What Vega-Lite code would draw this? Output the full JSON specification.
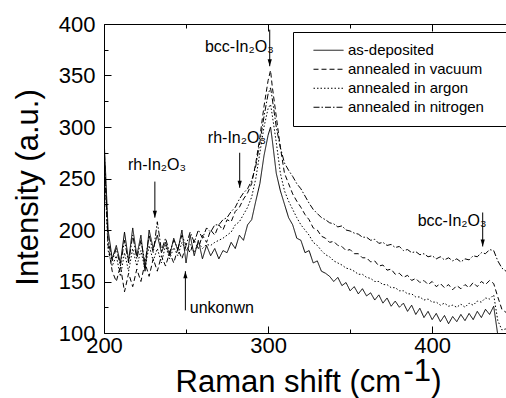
{
  "$schema": "https://vega.github.io/schema/vega-lite/v6.json",
  "width": 402,
  "height": 309,
  "autosize": {"type": "none"},
  "padding": {"left": 104, "top": 24, "right": 0, "bottom": 65},
  "background": "white",
  "config": {"view": {"stroke": null}, "font": "Liberation Sans"},
  "resolve": {"axis": {"x": "independent", "y": "independent"}, "scale": {"shape": "independent"}},
  "layer": [
    {
      "data": {"values": [
        {"x": 261.5, "y": 373, "t": "bcc-In₂O₃"},
        {"x": 263.3, "y": 284.6, "t": "rh-In₂O₃"},
        {"x": 214.6, "y": 258.5, "t": "rh-In₂O₃"},
        {"x": 252.3, "y": 119.7, "t": "unkonwn"},
        {"x": 391.2, "y": 203.5, "t": "bcc-In₂O₃"}
      ]},
      "mark": {"type": "text", "align": "left", "baseline": "alphabetic", "fontSize": 16, "font": "Liberation Sans", "color": "black"},
      "encoding": {
        "x": {"field": "x", "type": "quantitative", "scale": {"domain": [200, 445], "nice": false, "zero": false},
          "axis": {"orient": "top", "values": [200, 250, 300, 350, 400], "labels": false, "title": null, "grid": false, "domainColor": "black", "tickColor": "black", "tickSize": {"condition": {"test": "datum.value % 100 == 0", "value": -7}, "value": -4}}},
        "y": {"field": "y", "type": "quantitative", "scale": {"domain": [100, 400], "nice": false, "zero": false}, "axis": null},
        "text": {"field": "t"}
      }
    },
    {
      "data": {"values": [
        {"x": 200, "s": 290, "v": 280, "a": 275, "n": 285},
        {"x": 201, "s": 255, "v": 240, "a": 235, "n": 245},
        {"x": 202.5, "s": 200, "v": 185, "a": 180, "n": 190},
        {"x": 205, "s": 172, "v": 160, "a": 165, "n": 170},
        {"x": 207.5, "s": 185, "v": 150, "a": 175, "n": 182},
        {"x": 210, "s": 168, "v": 165, "a": 155, "n": 165},
        {"x": 212.5, "s": 198, "v": 140, "a": 178, "n": 190},
        {"x": 215, "s": 170, "v": 158, "a": 160, "n": 168},
        {"x": 217.5, "s": 202, "v": 145, "a": 182, "n": 195},
        {"x": 220, "s": 175, "v": 162, "a": 165, "n": 172},
        {"x": 222.5, "s": 195, "v": 150, "a": 180, "n": 190},
        {"x": 225, "s": 160, "v": 168, "a": 162, "n": 168},
        {"x": 227.5, "s": 200, "v": 155, "a": 185, "n": 195},
        {"x": 230, "s": 182, "v": 172, "a": 170, "n": 178},
        {"x": 232.5, "s": 195, "v": 160, "a": 182, "n": 208},
        {"x": 235, "s": 178, "v": 175, "a": 168, "n": 180},
        {"x": 237.5, "s": 188, "v": 165, "a": 185, "n": 192},
        {"x": 240, "s": 175, "v": 178, "a": 172, "n": 178},
        {"x": 242.5, "s": 192, "v": 168, "a": 183, "n": 190},
        {"x": 245, "s": 180, "v": 182, "a": 175, "n": 182},
        {"x": 247.5, "s": 200, "v": 172, "a": 188, "n": 195},
        {"x": 250, "s": 168, "v": 185, "a": 180, "n": 185},
        {"x": 252.5, "s": 195, "v": 178, "a": 186, "n": 198},
        {"x": 255, "s": 175, "v": 190, "a": 178, "n": 188},
        {"x": 257.5, "s": 190, "v": 182, "a": 188, "n": 200},
        {"x": 260, "s": 172, "v": 195, "a": 182, "n": 192},
        {"x": 262.5, "s": 185, "v": 188, "a": 186, "n": 202},
        {"x": 265, "s": 175, "v": 200, "a": 185, "n": 198},
        {"x": 267.5, "s": 182, "v": 195, "a": 188, "n": 205},
        {"x": 270, "s": 172, "v": 205, "a": 190, "n": 205},
        {"x": 272.5, "s": 180, "v": 200, "a": 192, "n": 210},
        {"x": 275, "s": 178, "v": 210, "a": 195, "n": 212},
        {"x": 277.5, "s": 188, "v": 208, "a": 198, "n": 218},
        {"x": 280, "s": 182, "v": 218, "a": 205, "n": 222},
        {"x": 282.5, "s": 195, "v": 222, "a": 208, "n": 230},
        {"x": 285, "s": 190, "v": 230, "a": 215, "n": 236},
        {"x": 287.5, "s": 205, "v": 236, "a": 222, "n": 240},
        {"x": 290, "s": 210, "v": 245, "a": 232, "n": 248},
        {"x": 292.5, "s": 228, "v": 265, "a": 250, "n": 262},
        {"x": 295, "s": 245, "v": 290, "a": 275, "n": 285},
        {"x": 297.5, "s": 272, "v": 320, "a": 300, "n": 310},
        {"x": 300, "s": 292, "v": 345, "a": 318, "n": 332},
        {"x": 301.5, "s": 300, "v": 355, "a": 322, "n": 338},
        {"x": 302.5, "s": 288, "v": 340, "a": 312, "n": 328},
        {"x": 305, "s": 255, "v": 310, "a": 285, "n": 300},
        {"x": 307.5, "s": 238, "v": 280, "a": 255, "n": 280},
        {"x": 310, "s": 225, "v": 255, "a": 238, "n": 265},
        {"x": 312.5, "s": 212, "v": 245, "a": 228, "n": 258},
        {"x": 315, "s": 205, "v": 235, "a": 220, "n": 252},
        {"x": 317.5, "s": 192, "v": 228, "a": 212, "n": 245},
        {"x": 320, "s": 190, "v": 222, "a": 205, "n": 240},
        {"x": 322.5, "s": 178, "v": 215, "a": 200, "n": 233},
        {"x": 325, "s": 180, "v": 210, "a": 195, "n": 226},
        {"x": 327.5, "s": 168, "v": 202, "a": 188, "n": 220},
        {"x": 330, "s": 170, "v": 200, "a": 185, "n": 216},
        {"x": 332.5, "s": 160, "v": 194, "a": 180, "n": 212},
        {"x": 335, "s": 158, "v": 192, "a": 176, "n": 210},
        {"x": 337.5, "s": 155, "v": 188, "a": 174, "n": 207},
        {"x": 340, "s": 150, "v": 189, "a": 170, "n": 206},
        {"x": 342.5, "s": 154, "v": 185, "a": 168, "n": 203},
        {"x": 345, "s": 146, "v": 184, "a": 166, "n": 204},
        {"x": 347.5, "s": 149, "v": 180, "a": 163, "n": 200},
        {"x": 350, "s": 141, "v": 181, "a": 162, "n": 199},
        {"x": 352.5, "s": 145, "v": 177, "a": 160, "n": 197},
        {"x": 355, "s": 138, "v": 177, "a": 157, "n": 196},
        {"x": 357.5, "s": 143, "v": 173, "a": 157, "n": 193},
        {"x": 360, "s": 136, "v": 173, "a": 154, "n": 193},
        {"x": 362.5, "s": 139, "v": 169, "a": 153, "n": 190},
        {"x": 365, "s": 132, "v": 170, "a": 150, "n": 191},
        {"x": 367.5, "s": 137, "v": 165, "a": 150, "n": 187},
        {"x": 370, "s": 129, "v": 166, "a": 147, "n": 188},
        {"x": 372.5, "s": 134, "v": 161, "a": 147, "n": 185},
        {"x": 375, "s": 126, "v": 162, "a": 144, "n": 186},
        {"x": 377.5, "s": 131, "v": 157, "a": 144, "n": 183},
        {"x": 380, "s": 125, "v": 158, "a": 141, "n": 184},
        {"x": 382.5, "s": 129, "v": 154, "a": 141, "n": 180},
        {"x": 385, "s": 121, "v": 156, "a": 138, "n": 181},
        {"x": 387.5, "s": 127, "v": 151, "a": 138, "n": 178},
        {"x": 390, "s": 118, "v": 153, "a": 135, "n": 179},
        {"x": 392.5, "s": 124, "v": 149, "a": 135, "n": 176},
        {"x": 395, "s": 115, "v": 151, "a": 132, "n": 177},
        {"x": 397.5, "s": 121, "v": 147, "a": 133, "n": 174},
        {"x": 400, "s": 113, "v": 150, "a": 130, "n": 175},
        {"x": 402.5, "s": 119, "v": 145, "a": 130, "n": 172},
        {"x": 405, "s": 111, "v": 148, "a": 127, "n": 174},
        {"x": 407.5, "s": 117, "v": 144, "a": 129, "n": 171},
        {"x": 410, "s": 109, "v": 147, "a": 126, "n": 173},
        {"x": 412.5, "s": 116, "v": 142, "a": 127, "n": 170},
        {"x": 415, "s": 111, "v": 146, "a": 125, "n": 172},
        {"x": 417.5, "s": 118, "v": 143, "a": 128, "n": 169},
        {"x": 420, "s": 112, "v": 147, "a": 125, "n": 172},
        {"x": 422.5, "s": 119, "v": 144, "a": 129, "n": 171},
        {"x": 425, "s": 113, "v": 149, "a": 127, "n": 175},
        {"x": 427.5, "s": 121, "v": 145, "a": 131, "n": 174},
        {"x": 430, "s": 115, "v": 150, "a": 130, "n": 178},
        {"x": 432.5, "s": 123, "v": 147, "a": 134, "n": 177},
        {"x": 435, "s": 118, "v": 151, "a": 133, "n": 181},
        {"x": 437.5, "s": 126, "v": 148, "a": 137, "n": 180},
        {"x": 440, "s": 98, "v": 135, "a": 112, "n": 170},
        {"x": 442.5, "s": 95, "v": 123, "a": 103, "n": 163},
        {"x": 445, "s": 95, "v": 120, "a": 104, "n": 160}
      ]},
      "transform": [{"fold": ["s", "v", "a", "n"], "as": ["series", "intensity"]}],
      "mark": {"type": "line", "clip": true, "color": "black", "strokeWidth": 1},
      "encoding": {
        "x": {"field": "x", "type": "quantitative", "scale": {"domain": [200, 445], "nice": false, "zero": false},
          "axis": {"orient": "bottom", "values": [200, 250, 300, 350, 400], "labelExpr": "datum.value % 100 == 0 ? datum.label : ''",
            "labelFlush": false, "labelOverlap": false, "labelFontSize": 22, "labelFont": "Liberation Sans", "labelColor": "black", "labelPadding": 9,
            "grid": false, "domainColor": "black", "tickColor": "black",
            "tickSize": {"condition": {"test": "datum.value % 100 == 0", "value": -7}, "value": -4},
            "title": "Raman shift (cm", "titleFontSize": 31, "titleFont": "Liberation Sans", "titleFontWeight": "normal", "titleColor": "black",
            "titleX": 71, "titleY": 58, "titleAlign": "left", "titleBaseline": "alphabetic"}},
        "y": {"field": "intensity", "type": "quantitative", "scale": {"domain": [100, 400], "nice": false, "zero": false},
          "axis": {"orient": "left", "values": [100, 125, 150, 175, 200, 225, 250, 275, 300, 325, 350, 375, 400], "labelExpr": "datum.value % 50 == 0 ? datum.label : ''",
            "labelFlush": false, "labelOverlap": false, "labelFontSize": 22, "labelFont": "Liberation Sans", "labelColor": "black", "labelPadding": 16,
            "grid": false, "domainColor": "black", "tickColor": "black",
            "tickSize": {"condition": {"test": "datum.value % 50 == 0", "value": -7}, "value": -4},
            "title": "Intensity (a.u.)", "titleFontSize": 31, "titleFont": "Liberation Sans", "titleFontWeight": "normal", "titleColor": "black",
            "titleX": -67, "titleY": 163, "titleAngle": -90, "titleAlign": "center", "titleBaseline": "alphabetic"}},
        "strokeDash": {"field": "series", "type": "nominal",
          "scale": {"domain": ["s", "v", "a", "n"], "range": [[1, 0], [5, 3], [1.5, 2], [6, 2, 1.5, 2]]},
          "legend": {"orient": "none", "legendX": 189, "legendY": 8, "title": null, "strokeColor": "black", "fillColor": "white", "padding": 9,
            "labelFontSize": 15, "labelFont": "Liberation Sans", "labelColor": "black", "labelLimit": 300, "symbolType": "stroke", "symbolSize": 900,
            "symbolStrokeWidth": 1, "symbolStrokeColor": "black", "rowPadding": 0, "clipHeight": 18.5, "labelOffset": 4, "symbolOffset": 11,
            "labelExpr": "datum.label == 's' ? 'as-deposited' : datum.label == 'v' ? 'annealed in vacuum' : datum.label == 'a' ? 'annealed in argon' : 'annealed in nitrogen\u2800\u2800'"}}
      }
    },
    {
      "data": {"values": [
        {"x": 382.5, "y": 53, "t": "-1"},
        {"x": 399.5, "y": 43.7, "t": ")"}
      ]},
      "mark": {"type": "text", "align": "left", "baseline": "alphabetic", "fontSize": 31, "font": "Liberation Sans", "color": "black", "clip": false},
      "encoding": {
        "x": {"field": "x", "type": "quantitative", "axis": null},
        "y": {"field": "y", "type": "quantitative", "axis": null},
        "text": {"field": "t"}
      }
    },
    {
      "data": {"values": [
        {"x": 301, "y1": 394.5, "y2": 359, "dir": "down"},
        {"x": 282.7, "y1": 275, "y2": 241, "dir": "down"},
        {"x": 231, "y1": 247, "y2": 212, "dir": "down"},
        {"x": 249.6, "y1": 122, "y2": 160, "dir": "up"},
        {"x": 430.8, "y1": 217, "y2": 184, "dir": "down"}
      ]},
      "layer": [
        {
          "mark": {"type": "rule", "color": "black", "strokeWidth": 1},
          "encoding": {
            "x": {"field": "x", "type": "quantitative", "axis": null},
            "y": {"field": "y1", "type": "quantitative", "axis": null},
            "y2": {"field": "y2"}
          }
        },
        {
          "mark": {"type": "point", "filled": true, "color": "black", "opacity": 1, "size": 49, "strokeWidth": 0},
          "encoding": {
            "x": {"field": "x", "type": "quantitative", "axis": null},
            "y": {"field": "y2", "type": "quantitative", "axis": null},
            "shape": {"field": "dir", "type": "nominal", "scale": {"domain": ["down", "up"], "range": ["M-0.6,-2L0.6,-2L0,0Z", "M-0.6,2L0.6,2L0,0Z"]}, "legend": null}
          }
        }
      ]
    }
  ]
}
